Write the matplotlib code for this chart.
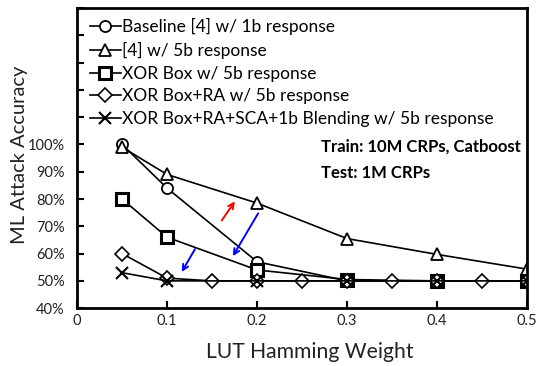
import matplotlib
matplotlib.use("Agg")
import matplotlib.pyplot as plt
from matplotlib.ticker import FixedLocator, FuncFormatter

plt.rcParams['font.family'] = ['Lato', 'DejaVu Sans']

# LUT Hamming weight and attack accuracy (%) for each scheme
hw = [0.05, 0.1, 0.2, 0.3, 0.4, 0.5]
hw_fine = [0.05, 0.1, 0.15, 0.2, 0.25, 0.3, 0.35, 0.4, 0.45, 0.5]

baseline_1b = [100, 84, 57, 50, 50, 50]
ref4_5b = [99, 89, 78.5, 65.5, 59.7, 54.3]
xorbox_5b = [80, 66, 54, 50.5, 50, 50]
xorbox_ra_5b = [60, 51, 50, 50, 50, 50, 50, 50, 50, 50]
xorbox_full_5b = [53, 50, 50, 50, 50, 50]

labels = [
    "Baseline [4] w/ 1b response",
    "[4] w/ 5b response",
    "XOR Box w/ 5b response",
    "XOR Box+RA w/ 5b response",
    "XOR Box+RA+SCA+1b Blending w/ 5b response",
]

fig = plt.figure(figsize=(5.39, 3.66), dpi=100)
ax = fig.add_axes([0.143, 0.158, 0.835, 0.82])

common = dict(color='black', lw=1.2, markerfacecolor='white',
              markeredgecolor='black')
ax.plot(hw, baseline_1b, marker='o', ms=8, mew=1.3, label=labels[0], **common)
ax.plot(hw, ref4_5b, marker='^', ms=9, mew=1.3, label=labels[1], **common)
ax.plot(hw, xorbox_5b, marker='s', ms=8, mew=2.2, label=labels[2], **common)
ax.plot(hw_fine, xorbox_ra_5b, marker='D', ms=7, mew=1.2, label=labels[3], **common)
ax.plot(hw, xorbox_full_5b, marker='x', ms=8, mew=1.5, label=labels[4], **common)

# Arrows highlighting the accuracy changes
ax.annotate('', xy=(0.177, 80.0), xytext=(0.159, 71.3),
            arrowprops=dict(arrowstyle='->', color='red', lw=1.4))
ax.annotate('', xy=(0.1715, 58.2), xytext=(0.2027, 75.6),
            arrowprops=dict(arrowstyle='->', color='blue', lw=1.4))
ax.annotate('', xy=(0.1147, 52.4), xytext=(0.1325, 62.5),
            arrowprops=dict(arrowstyle='->', color='blue', lw=1.4))

ax.text(0.2706, 99.3, "Train: 10M CRPs, Catboost", fontsize=12, fontweight='bold',
        va='center', ha='left')
ax.text(0.2706, 89.5, "Test: 1M CRPs", fontsize=12, fontweight='bold',
        va='center', ha='left')

ax.set_xlim(0, 0.5)
ax.set_ylim(40, 150)
ax.xaxis.set_major_locator(FixedLocator([0, 0.1, 0.2, 0.3, 0.4, 0.5]))
ax.set_xticklabels(['0', '0.1', '0.2', '0.3', '0.4', '0.5'])
ax.yaxis.set_major_locator(FixedLocator(list(range(40, 151, 10))))
ax.yaxis.set_major_formatter(FuncFormatter(lambda v, p: f"{int(v)}%" if v <= 100 else ""))
ax.tick_params(direction='in', length=5, width=1.5, labelsize=10.5,
               labelcolor='#222222')
ax.tick_params(axis='x', pad=4.5)
ax.tick_params(axis='y', pad=9)
for s in ax.spines.values():
    s.set_linewidth(2)

ax.set_xlabel("LUT Hamming Weight", fontsize=15.2, color='#222222',
              va='center')
ax.xaxis.set_label_coords(0.518, -0.147)
ax.set_ylabel("ML Attack Accuracy", fontsize=14.5, color='#222222',
              va='center')
ax.yaxis.set_label_coords(-0.128, 0.51)

ax.legend(loc='upper left', bbox_to_anchor=(0.005, 1.0), frameon=False,
          fontsize=12.5, handlelength=1.8, handletextpad=0.05, labelspacing=0.38,
          borderaxespad=0.2)

fig.savefig("out.png", dpi=100)
